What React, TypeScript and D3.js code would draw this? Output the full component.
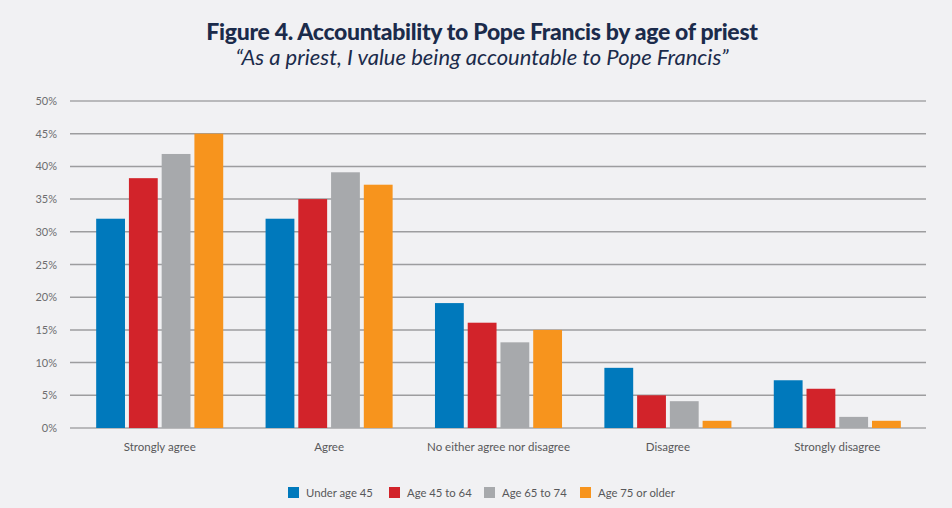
import React from "react";
import * as d3 from "d3";

const categories = ["Strongly agree", "Agree", "No either agree nor disagree", "Disagree", "Strongly disagree"];
const seriesNames = ["Under age 45", "Age 45 to 64", "Age 65 to 74", "Age 75 or older"];
const under45 = [32, 32, 19.1, 9.2, 7.3];
const age45to64 = [38.2, 35, 16.1, 5.0, 6.0];
const age65to74 = [41.9, 39.1, 13.1, 4.1, 1.7];
const age75plus = [45, 37.2, 15.0, 1.1, 1.1];
const yTicks = [0, 5, 10, 15, 20, 25, 30, 35, 40, 45, 50];
const colors = ["#0079bc", "#d2232a", "#a7a9ac", "#f7941d"];

const W = 952;
const H = 508;

export default function App() {
  const series = [under45, age45to64, age65to74, age75plus];
  const y = d3.scaleLinear().domain([0, 50]).range([428, 101]);
  const x0 = d3.scaleBand<string>().domain(categories).range([75, 922]).paddingInner(0.25).paddingOuter(0.125);
  const x1 = d3.scaleBand<string>().domain(seriesNames).range([0, x0.bandwidth()]).paddingInner(0.12);
  const font = "Lato, 'Open Sans', sans-serif";
  const legendX = [288, 389, 484, 580];

  return (
    <svg width={W} height={H} style={{ position: "absolute", left: 0, top: 0, background: "#f1f1f3" }} fontFamily={font}>
      <rect x={0} y={0} width={W} height={H} fill="#f1f1f3" />
      <text x={482} y={40} textAnchor="middle" fontSize={23} fontWeight={900} fill="#1b2b4b" letterSpacing={-0.3}>
        Figure 4. Accountability to Pope Francis by age of priest
      </text>
      <text x={482} y={65} textAnchor="middle" fontSize={22} fontStyle="italic" fill="#1b2b4b">
        “As a priest, I value being accountable to Pope Francis”
      </text>
      {yTicks.map((t) => (
        <g key={t}>
          <line
            x1={70}
            x2={926}
            y1={y(t)}
            y2={y(t)}
            stroke={t === 0 || t === 50 ? "#b9b9bb" : "#9d9d9f"}
            strokeWidth={t === 0 || t === 50 ? 2 : 1.5}
          />
          <text x={57} y={y(t) + 4} textAnchor="end" fontSize={11} fill="#6d6d6f">
            {t}%
          </text>
        </g>
      ))}
      {categories.map((c, ci) => (
        <g key={c} transform={`translate(${x0(c)},0)`}>
          {seriesNames.map((s, si) => (
            <rect
              key={s}
              x={x1(s)}
              y={y(series[si][ci])}
              width={x1.bandwidth()}
              height={y(0) - y(series[si][ci])}
              fill={colors[si]}
            />
          ))}
          <text x={x0.bandwidth() / 2} y={451} textAnchor="middle" fontSize={11.5} fill="#58585a">
            {c}
          </text>
        </g>
      ))}
      {seriesNames.map((s, si) => (
        <g key={s}>
          <rect x={legendX[si]} y={487} width={11} height={11} fill={colors[si]} />
          <text x={legendX[si] + 18} y={497} fontSize={11.3} fill="#58585a">
            {s}
          </text>
        </g>
      ))}
    </svg>
  );
}
